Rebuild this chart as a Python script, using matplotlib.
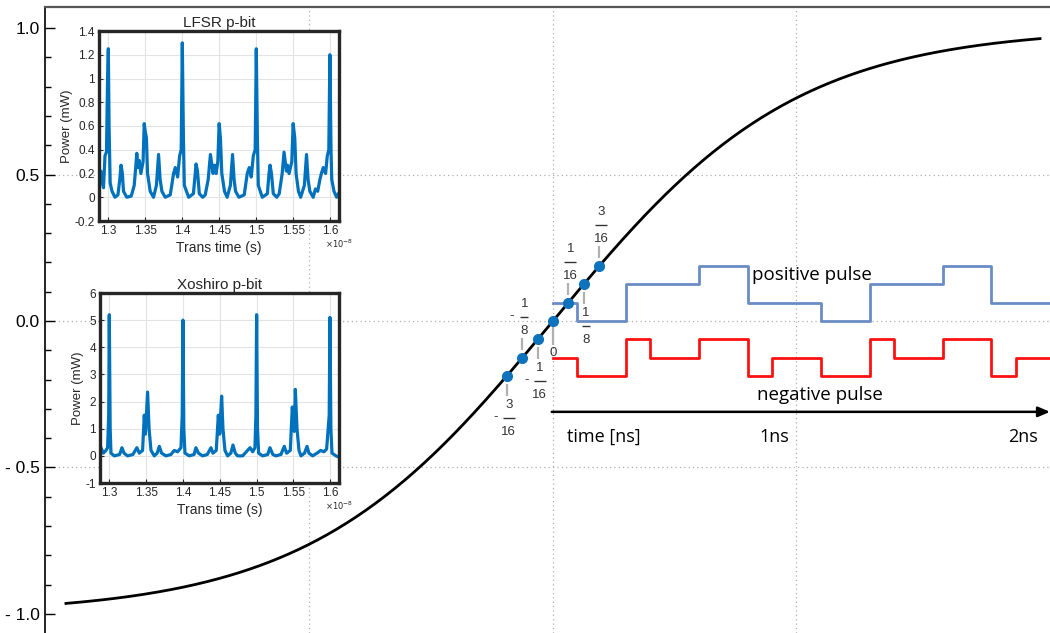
import numpy as np
import matplotlib
matplotlib.use("Agg")
import matplotlib.pyplot as plt
from matplotlib.transforms import offset_copy

plt.rcParams['font.family'] = ['Liberation Sans', 'DejaVu Sans']

# ---- main sigmoid ----
curve_x = np.linspace(-2.0, 2.0, 400)
yticks = [1.0, 0.5, 0.0, -0.5, -1.0]
ytick_labels = ['1.0', '0.5', '0.0', '- 0.5', '- 1.0']
grid_x = [-1, 0, 1]
grid_y = [0.5, 0.0, -0.5]

# sampled points (value on the curve) and their labels
point_vals = [-3/16, -1/8, -1/16, 0, 1/16, 1/8, 3/16]
point_num = ['3', '1', '1', '0', '1', '1', '3']
point_den = ['16', '8', '16', '', '16', '8', '16']
point_neg = [True, True, True, False, False, False, False]
point_up = [False, True, False, False, True, False, True]

# pulses (time in ns, level)
pos_t = [0, 0.1, 0.3, 0.6, 0.8, 1.1, 1.3, 1.6, 1.8, 2.05]
pos_v = [1/16, 0, 1/8, 3/16, 1/16, 0, 1/8, 3/16, 1/16, 1/16]
neg_t = [0, 0.1, 0.3, 0.4, 0.6, 0.8, 0.9, 1.1, 1.3, 1.4, 1.6, 1.8, 1.9, 2.05]
neg_v = [-1/8, -3/16, -1/16, -1/8, -1/16, -3/16, -1/8, -3/16, -1/16, -1/8,
         -1/16, -3/16, -1/8, -1/8]

# ---- inset traces (time x1e-8 s, power mW) ----
lfsr_t = [1.2878, 1.2900, 1.2920, 1.2935, 1.2955, 1.2975, 1.2990, 1.3000, 1.3010, 1.3025,
          1.3050, 1.3090, 1.3130, 1.3155, 1.3172, 1.3190, 1.3205, 1.3250, 1.3310, 1.3350,
          1.3370, 1.3385, 1.3400, 1.3418, 1.3440, 1.3470, 1.3485, 1.3500, 1.3515, 1.3530,
          1.3566, 1.3611, 1.3650, 1.3679, 1.3700, 1.3724, 1.3769, 1.3837, 1.3882, 1.3905,
          1.3937, 1.3964, 1.3985, 1.4000, 1.4015, 1.4027, 1.4086, 1.4150, 1.4175, 1.4186,
          1.4205, 1.4230, 1.4276, 1.4310, 1.4350, 1.4380, 1.4416, 1.4434, 1.4457, 1.4480,
          1.4498, 1.4515, 1.4534, 1.4570, 1.4606, 1.4650, 1.4679, 1.4700, 1.4720, 1.4765,
          1.4837, 1.4878, 1.4905, 1.4932, 1.4960, 1.4985, 1.5000, 1.5015, 1.5027, 1.5081,
          1.5150, 1.5172, 1.5186, 1.5205, 1.5230, 1.5276, 1.5310, 1.5350, 1.5375, 1.5407,
          1.5421, 1.5443, 1.5480, 1.5498, 1.5520, 1.5538, 1.5570, 1.5600, 1.5650, 1.5679,
          1.5700, 1.5724, 1.5769, 1.5800, 1.5830, 1.5860, 1.5880, 1.5905, 1.5937, 1.5960,
          1.5980, 1.5995, 1.6010, 1.6020, 1.6050, 1.6086, 1.6110]
lfsr_p = [0.20, 0.22, 0.12, 0.08, 0.35, 0.38, 1.00, 1.25, 0.60, 0.12,
          0.05, 0.00, 0.02, 0.15, 0.27, 0.20, 0.05, 0.00, 0.01, 0.10,
          0.25, 0.37, 0.25, 0.31, 0.20, 0.30, 0.62, 0.55, 0.50, 0.20,
          0.05, 0.00, 0.10, 0.36, 0.15, 0.05, 0.00, 0.02, 0.20, 0.25,
          0.17, 0.35, 0.40, 1.30, 0.50, 0.10, 0.00, 0.03, 0.20, 0.28,
          0.22, 0.03, 0.00, 0.02, 0.15, 0.36, 0.20, 0.27, 0.20, 0.30,
          0.62, 0.50, 0.20, 0.05, 0.00, 0.10, 0.36, 0.15, 0.05, 0.00,
          0.02, 0.20, 0.25, 0.17, 0.35, 0.40, 1.25, 0.50, 0.10, 0.00,
          0.03, 0.20, 0.27, 0.20, 0.03, 0.00, 0.03, 0.20, 0.38, 0.22,
          0.27, 0.20, 0.30, 0.62, 0.50, 0.20, 0.05, 0.00, 0.10, 0.36,
          0.15, 0.05, 0.00, 0.07, 0.05, 0.15, 0.20, 0.25, 0.20, 0.35,
          0.40, 1.20, 0.40, 0.15, 0.05, 0.00, 0.03]

xosh_t = [1.2887, 1.2920, 1.2955, 1.2977, 1.2992, 1.3000, 1.3012, 1.3023, 1.3068, 1.3140,
          1.3172, 1.3200, 1.3249, 1.3320, 1.3375, 1.3407, 1.3452, 1.3475, 1.3490, 1.3520,
          1.3540, 1.3566, 1.3611, 1.3650, 1.3679, 1.3710, 1.3769, 1.3837, 1.3882, 1.3928,
          1.3973, 1.3990, 1.4000, 1.4012, 1.4027, 1.4086, 1.4150, 1.4176, 1.4210, 1.4267,
          1.4330, 1.4380, 1.4407, 1.4452, 1.4480, 1.4498, 1.4525, 1.4543, 1.4570, 1.4606,
          1.4650, 1.4679, 1.4710, 1.4742, 1.4810, 1.4860, 1.4910, 1.4946, 1.4977, 1.4990,
          1.5000, 1.5012, 1.5027, 1.5081, 1.5150, 1.5181, 1.5220, 1.5262, 1.5330, 1.5375,
          1.5407, 1.5457, 1.5484, 1.5511, 1.5525, 1.5548, 1.5575, 1.5602, 1.5650, 1.5684,
          1.5710, 1.5760, 1.5820, 1.5869, 1.5914, 1.5950, 1.5985, 1.5995, 1.6008, 1.6023,
          1.6077, 1.6118]
xosh_p = [0.30, 0.10, 0.20, 0.30, 1.50, 5.20, 1.00, 0.10, 0.00, 0.05,
          0.30, 0.10, 0.00, 0.05, 0.30, 0.10, 0.20, 1.50, 0.80, 2.35,
          1.00, 0.20, 0.00, 0.10, 0.35, 0.10, 0.00, 0.05, 0.20, 0.15,
          0.30, 1.50, 5.00, 1.00, 0.10, 0.00, 0.05, 0.30, 0.10, 0.00,
          0.05, 0.30, 0.10, 0.20, 1.50, 0.80, 2.20, 1.00, 0.20, 0.00,
          0.10, 0.40, 0.10, 0.00, 0.00, 0.15, 0.30, 0.15, 0.30, 1.50,
          5.20, 1.00, 0.10, 0.00, 0.05, 0.30, 0.05, 0.00, 0.05, 0.35,
          0.10, 0.20, 1.80, 0.90, 2.45, 1.00, 0.20, 0.00, 0.10, 0.35,
          0.10, 0.00, 0.10, 0.20, 0.15, 0.25, 1.50, 5.10, 1.00, 0.10,
          0.00, -0.05]

inset_xticks = [1.3, 1.35, 1.4, 1.45, 1.5, 1.55, 1.6]
inset_xlabels = ['1.3', '1.35', '1.4', '1.45', '1.5', '1.55', '1.6']
lfsr_yticks = [-0.2, 0, 0.2, 0.4, 0.6, 0.8, 1, 1.2, 1.4]
lfsr_ylabels = ['-0.2', '0', '0.2', '0.4', '0.6', '0.8', '1', '1.2', '1.4']
xosh_yticks = [-1, 0, 1, 2, 3, 4, 5, 6]

fig = plt.figure(figsize=(10.5, 6.33), dpi=100)
ax = fig.add_axes([45/1050, 0, 1 - 45/1050, 626/633])
ax.set_xlim(-2.086, 2.041)
ax.set_ylim(-1.065, 1.072)

for gx in grid_x:
    ax.axvline(gx, color='#b0b0b0', lw=0.9, ls=(0, (1, 2.5)), zorder=0)
for gy in grid_y:
    ax.axhline(gy, color='#b0b0b0', lw=0.9, ls=(0, (1, 2.5)), zorder=0)

ax.plot(curve_x, np.tanh(curve_x), color='black', lw=2.0, zorder=3)

ax.step(pos_t, pos_v, where='post', color='#6a8cc4', lw=2.0, zorder=2)
ax.step(neg_t, neg_v, where='post', color='#ff1010', lw=2.0, zorder=2)

# time axis
ax.annotate('', xy=(2.041, -0.31), xytext=(-0.005, -0.31),
            arrowprops=dict(arrowstyle='-|>,head_length=0.7,head_width=0.3',
                            color='black', lw=1.8, shrinkA=0, shrinkB=0), zorder=2)
sans2 = ['Open Sans', 'DejaVu Sans']
ax.text(0.057, -0.396, 'time [ns]', fontsize=13, family=sans2, va='center', ha='left')
ax.text(0.97, -0.396, '1ns', fontsize=13, family=sans2, va='center', ha='right')
ax.text(1.99, -0.396, '2ns', fontsize=13, family=sans2, va='center', ha='right')
ax.text(1.064, 0.157, 'positive pulse', fontsize=13.5, family=sans2, va='center', ha='center')
ax.text(1.096, -0.253, 'negative pulse', fontsize=13.5, family=sans2, va='center', ha='center')

# sampled points with fraction labels
px = np.arctanh(np.array(point_vals))
ax.plot(px, point_vals, 'o', color='#0f72bd', ms=7, zorder=5)


def off(dx, dy):
    return offset_copy(ax.transData, fig=fig, x=dx, y=-dy, units='dots')


lab_color = '#333333'
fs = 9.5
for x, v, n, d, neg, up in zip(px, point_vals, point_num, point_den, point_neg, point_up):
    if d == '':
        ax.plot([x], [v], marker='|', ms=15, mew=1.6, color='#b0b0b0',
                transform=off(0, 14), zorder=4)
        ax.text(x, v, n, fontsize=fs, color=lab_color, ha='center', va='center',
                transform=off(0, 32))
        continue
    s = -1 if up else 1
    cx = 2
    ax.plot([x], [v], marker='|', ms=8.5, mew=1.6, color='#b0b0b0',
            transform=off(0, s * 14), zorder=4)
    ax.text(x, v, n, fontsize=fs, color=lab_color, ha='center', va='center',
            transform=off(cx, 29 if not up else -54))
    barw = 8.5 if len(d) == 2 else 5.5
    ax.plot([x], [v], marker='_', ms=barw, mew=1.0, color=lab_color,
            transform=off(cx, 42 if not up else -41))
    ax.text(x, v, d, fontsize=fs, color=lab_color, ha='center', va='center',
            transform=off(cx, 56 if not up else -27))
    if neg:
        ax.text(x, v, '-', fontsize=fs, color=lab_color, ha='center', va='center',
                transform=off(cx - 13, (42 if not up else -41) - 1))

ax.set_xticks([])
ax.set_yticks(yticks)
ax.set_yticklabels(ytick_labels, fontsize=12.5)
ax.set_yticks(np.arange(-1.0, 1.05, 0.1), minor=True)
ax.tick_params(axis='y', which='major', direction='in', length=7, width=1, pad=4)
ax.tick_params(axis='y', which='minor', direction='in', length=4, width=1)
ax.spines['right'].set_visible(False)
ax.spines['bottom'].set_visible(False)
ax.spines['left'].set_linewidth(1.2)
ax.spines['top'].set_linewidth(1.6)
ax.spines['top'].set_color('#555555')


def inset(rect, t, p, title, yticks_, ylabels_, ylim):
    ia = fig.add_axes(rect)
    ia.set_facecolor('white')
    ia.plot(t, p, color='#0072bd', lw=2.3)
    ia.set_xlim(1.2874, 1.6118)
    ia.set_ylim(*ylim)
    ia.set_xticks(inset_xticks)
    ia.set_xticklabels(inset_xlabels, fontsize=8.5)
    ia.set_yticks(yticks_)
    ia.set_yticklabels(ylabels_, fontsize=8.5)
    ia.grid(True, color='#e3e3e3', lw=0.8)
    ia.set_axisbelow(True)
    ia.tick_params(direction='in', length=3, pad=3, colors='#262626')
    for sp in ia.spines.values():
        sp.set_linewidth(2.4)
        sp.set_color('#262626')
    ia.set_title(title, fontsize=11, pad=3, color='#262626')
    ia.set_xlabel('Trans time (s)', fontsize=10, labelpad=3, color='#262626')
    ia.set_ylabel('Power (mW)', fontsize=9.5, labelpad=1, color='#262626')
    ia.text(1.0, -0.09, r'$\times10^{-8}$', transform=ia.transAxes, fontsize=6,
            ha='center', va='top', color='#262626')
    return ia


inset([99/1050, 1 - 221/633, 240/1050, 190/633], lfsr_t, lfsr_p, 'LFSR p-bit',
      lfsr_yticks, lfsr_ylabels, (-0.2, 1.4))
inset([100/1050, 1 - 483/633, 239/1050, 190/633], xosh_t, xosh_p, 'Xoshiro p-bit',
      xosh_yticks, [str(v) for v in xosh_yticks], (-1, 6))

fig.savefig('out.png', dpi=100)
